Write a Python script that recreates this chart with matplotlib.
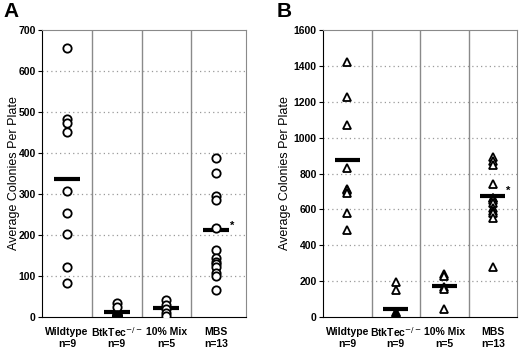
import matplotlib.pyplot as plt
import numpy as np

plt.rcParams['font.family'] = ['Liberation Sans', 'DejaVu Sans']

group_names = ['Wildtype', 'BtkTec$^{-/-}$', '10% Mix', 'MBS']
group_counts = ['n=9', 'n=9', 'n=5', 'n=13']

# panel A: colonies, circles
a_wild = [655, 482, 474, 452, 308, 253, 202, 121, 82]
a_btk = [35, 25, 6, 4, 3, 2, 1, 0, 0]
a_mix = [42, 30, 20, 10, 3]
a_mbs = [387, 351, 295, 286, 217, 164, 144, 135, 130, 123, 107, 99, 66]
a_means = [336, 11, 23, 211]

# panel B: colonies, triangles
b_wild = [1421, 1226, 1070, 831, 715, 709, 692, 581, 486]
b_btk = [193, 152, 30, 20, 12, 8, 4, 0, 0]
b_mix = [239, 226, 165, 158, 46]
b_mbs = [890, 868, 845, 740, 666, 661, 655, 633, 605, 590, 578, 550, 278]
b_means = [876, 46, 175, 675]

W, H = 520, 352
fig = plt.figure(figsize=(W / 100, H / 100), dpi=100)


def px_axes(x0, y0, x1, y1):
    return fig.add_axes([x0 / W, 1 - y1 / H, (x1 - x0) / W, (y1 - y0) / H])


def panel(ax, data, means, marker, ymax, ystep, xmax):
    ax.set_xlim(0.5, xmax)
    ax.set_ylim(0, ymax)
    ax.set_yticks(np.arange(0, ymax + 1, ystep))
    for y in np.arange(ystep, ymax, ystep):
        ax.axhline(y, color='#9a9a9a', lw=0.9, ls=(0, (1, 2.5)), zorder=0)
    for x in [1.5, 2.5, 3.5]:
        ax.axvline(x, color='#8a8a8a', lw=1.0, zorder=1)
    for i, (vals, m) in enumerate(zip(data, means)):
        ax.plot([i + 0.74, i + 1.26], [m, m], color='black', lw=3, zorder=2,
                solid_capstyle='butt')
        vals = np.array(vals)
        ax.plot(np.full(len(vals), i + 1), vals, ls='none', marker=marker, ms=6,
                mfc='white', mec='black', mew=1.3, zorder=3)
        # overlapping points piled at zero print as a solid mark
        zero = vals[vals == 0]
        ax.plot(np.full(len(zero), i + 1), zero, ls='none', marker=marker, ms=7,
                mfc='black', mec='black', zorder=4)
    ax.text(4.27, means[3], '*', fontsize=8, fontweight='bold', ha='left', va='bottom')
    ax.set_xticks([])
    trans = ax.get_xaxis_transform()
    for i, (name, n) in enumerate(zip(group_names, group_counts)):
        ax.text(i + 1, -0.052, name, transform=trans, ha='center', va='center',
                fontsize=7.5, fontweight='bold')
        ax.text(i + 1, -0.094, n, transform=trans, ha='center', va='center',
                fontsize=7.5, fontweight='bold')
    ax.tick_params(axis='y', length=3, width=0.8, labelsize=7.5, pad=1.5)
    for lab in ax.get_yticklabels():
        lab.set_fontweight('bold')
    for s in ['top', 'right']:
        ax.spines[s].set_color('#8a8a8a')
    for s in ['left', 'bottom']:
        ax.spines[s].set_color('black')
    ax.set_ylabel('Average Colonies Per Plate', fontsize=9)


ax1 = px_axes(42, 30, 246, 317)
panel(ax1, [a_wild, a_btk, a_mix, a_mbs], a_means, 'o', 700, 100, 4.6)
ax1.yaxis.set_label_coords(-0.108, 0.5)

ax2 = px_axes(323, 30, 517, 317)
panel(ax2, [b_wild, b_btk, b_mix, b_mbs], b_means, '^', 1600, 200, 4.5)
ax2.yaxis.set_label_coords(-0.165, 0.5)

fig.text(3 / W, 1 - 2 / H, 'A', fontsize=15, fontweight='bold', va='top')
fig.text(277 / W, 1 - 2 / H, 'B', fontsize=15, fontweight='bold', va='top')

fig.savefig('out.png', dpi=100)
